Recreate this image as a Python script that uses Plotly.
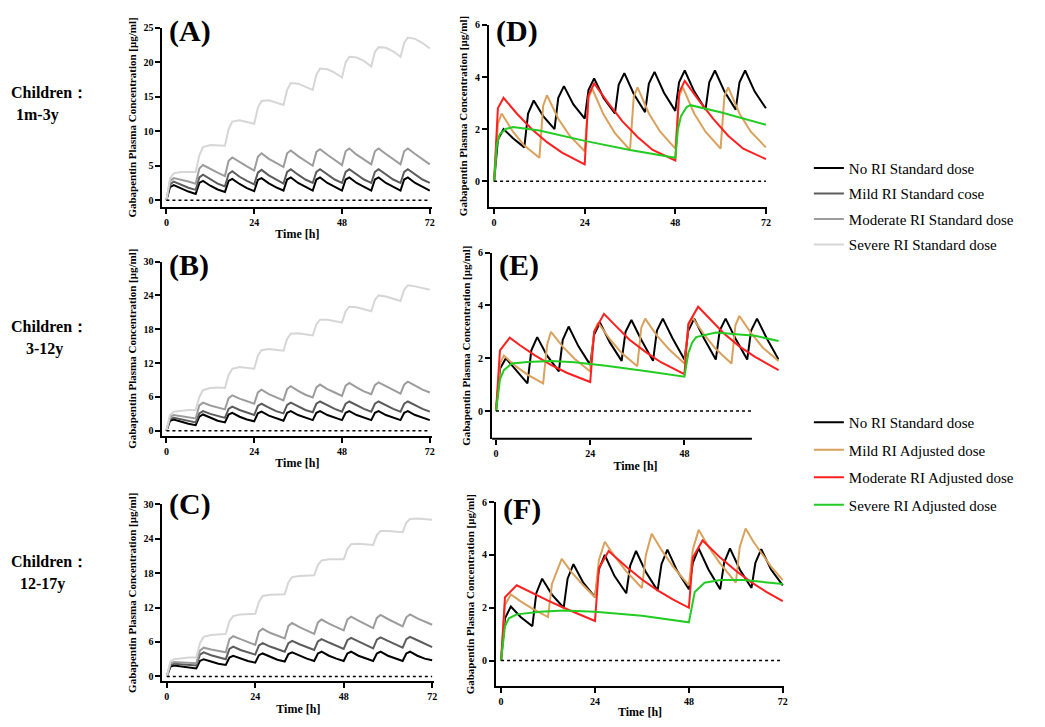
import plotly.graph_objects as go

# ---- data (time in h, concentration in ug/ml) ----
# panels A-C: standard dose every 8 h, same sampling grid for all four groups
T8 = [0, 1, 2, 4, 6, 8, 9, 10, 12, 14, 16, 17, 18, 20, 22, 24, 25, 26, 28, 30,
      32, 33, 34, 36, 38, 40, 41, 42, 44, 46, 48, 49, 50, 52, 54, 56, 57, 58, 60, 62,
      64, 65, 66, 68, 70, 72]

A_none = [0, 1.9, 2.2, 1.7, 1.25, 0.9, 2.5, 2.8, 2.1, 1.55, 1.2, 2.8, 3.1, 2.35, 1.75,
          1.3, 2.95, 3.2, 2.45, 1.85, 1.4, 3.0, 3.3, 2.5, 1.9, 1.4, 3.0, 3.3, 2.5, 1.9,
          1.4, 3.0, 3.3, 2.5, 1.9, 1.4, 3.0, 3.3, 2.5, 1.9, 1.4, 3.0, 3.3, 2.5, 1.9, 1.4]
A_mild = [0, 2.3, 2.7, 2.2, 1.8, 1.5, 3.3, 3.7, 3.0, 2.4, 2.0, 3.8, 4.2, 3.4, 2.8,
          2.3, 4.0, 4.4, 3.6, 3.0, 2.4, 4.1, 4.5, 3.7, 3.0, 2.5, 4.1, 4.5, 3.7, 3.0,
          2.5, 4.1, 4.5, 3.7, 3.0, 2.5, 4.1, 4.5, 3.7, 3.0, 2.5, 4.1, 4.5, 3.7, 3.0, 2.5]
A_mod = [0, 2.8, 3.2, 3.0, 2.7, 2.4, 4.6, 5.1, 4.5, 4.0, 3.5, 5.7, 6.2, 5.5, 4.9,
         4.3, 6.3, 6.8, 6.0, 5.4, 4.8, 6.8, 7.2, 6.4, 5.7, 5.0, 7.0, 7.4, 6.6, 5.8,
         5.1, 7.1, 7.5, 6.6, 5.9, 5.2, 7.1, 7.5, 6.7, 5.9, 5.2, 7.1, 7.5, 6.7, 5.9, 5.2]
A_sev = [0, 3.2, 3.9, 4.1, 4.1, 4.1, 6.5, 7.7, 8.0, 8.0, 7.9, 10.3, 11.4, 11.6, 11.4,
         11.1, 13.4, 14.4, 14.5, 14.2, 13.8, 16.0, 17.0, 16.9, 16.5, 16.0, 18.2, 19.1, 19.0, 18.5,
         17.8, 20.0, 20.8, 20.7, 20.2, 19.4, 21.5, 22.2, 22.1, 21.6, 20.8, 22.8, 23.6, 23.4, 22.8, 22.0]

B_none = [0, 1.8, 2.0, 1.6, 1.25, 1.0, 2.5, 2.9, 2.3, 1.8, 1.5, 2.9, 3.2, 2.5, 2.0,
          1.7, 3.1, 3.4, 2.7, 2.2, 1.8, 3.2, 3.5, 2.8, 2.3, 1.9, 3.2, 3.5, 2.8, 2.3,
          1.9, 3.2, 3.5, 2.8, 2.3, 1.9, 3.2, 3.5, 2.8, 2.3, 1.9, 3.2, 3.5, 2.8, 2.3, 1.9]
B_mild = [0, 2.1, 2.3, 2.0, 1.7, 1.5, 3.1, 3.5, 3.0, 2.6, 2.3, 3.9, 4.3, 3.7, 3.2,
          2.8, 4.4, 4.8, 4.1, 3.5, 3.1, 4.6, 5.0, 4.3, 3.7, 3.3, 4.8, 5.2, 4.5, 3.9,
          3.4, 4.8, 5.2, 4.5, 3.9, 3.4, 4.8, 5.2, 4.5, 3.9, 3.4, 4.8, 5.2, 4.5, 3.9, 3.4]
B_mod = [0, 2.5, 2.8, 2.6, 2.4, 2.2, 4.5, 5.0, 4.5, 4.1, 3.8, 5.8, 6.3, 5.7, 5.2,
         4.8, 6.8, 7.3, 6.5, 5.9, 5.4, 7.4, 7.9, 7.1, 6.4, 5.9, 7.7, 8.2, 7.4, 6.8,
         6.2, 8.0, 8.5, 7.7, 7.0, 6.5, 8.1, 8.6, 7.9, 7.2, 6.6, 8.2, 8.7, 8.0, 7.3, 6.8]
B_sev = [0, 2.8, 3.4, 3.6, 3.7, 3.7, 6.0, 7.2, 7.6, 7.7, 7.6, 9.9, 11.0, 11.3, 11.2,
         11.0, 13.3, 14.3, 14.5, 14.4, 14.2, 16.3, 17.2, 17.3, 17.1, 16.9, 18.9, 19.7, 19.7, 19.5,
         19.2, 21.2, 22.0, 21.9, 21.6, 21.2, 23.2, 24.0, 23.8, 23.4, 23.0, 25.0, 25.8, 25.6, 25.3, 25.0]

C_none = [0, 1.7, 1.9, 1.7, 1.5, 1.4, 2.7, 3.0, 2.6, 2.2, 2.0, 3.3, 3.6, 3.1, 2.7,
          2.4, 3.7, 4.0, 3.4, 2.9, 2.6, 3.9, 4.2, 3.6, 3.1, 2.7, 4.0, 4.3, 3.6, 3.1,
          2.7, 4.0, 4.3, 3.6, 3.1, 2.7, 4.0, 4.3, 3.6, 3.1, 2.7, 4.0, 4.3, 3.6, 3.1, 2.8]
C_mild = [0, 2.0, 2.2, 2.1, 2.0, 1.9, 3.8, 4.2, 3.7, 3.3, 3.0, 4.8, 5.2, 4.6, 4.2,
          3.8, 5.4, 5.8, 5.2, 4.7, 4.3, 5.8, 6.2, 5.6, 5.1, 4.6, 6.1, 6.5, 5.9, 5.3,
          4.8, 6.3, 6.7, 6.1, 5.5, 4.9, 6.4, 6.8, 6.2, 5.6, 5.0, 6.5, 6.9, 6.3, 5.7, 5.1]
C_mod = [0, 2.3, 2.5, 2.45, 2.4, 2.3, 4.5, 5.0, 4.7, 4.4, 4.2, 6.5, 7.0, 6.5, 6.0,
         5.5, 7.8, 8.3, 7.6, 7.1, 6.6, 8.8, 9.3, 8.6, 8.0, 7.4, 9.4, 9.9, 9.2, 8.6,
         8.0, 9.9, 10.4, 9.7, 9.1, 8.4, 10.2, 10.7, 10.0, 9.4, 8.7, 10.3, 10.8, 10.1, 9.5, 9.0]
C_sev = [0, 2.6, 3.0, 3.2, 3.3, 3.3, 5.8, 6.9, 7.2, 7.3, 7.4, 9.6, 10.5, 10.8, 10.9,
         10.9, 13.0, 14.0, 14.2, 14.3, 14.3, 16.4, 17.3, 17.5, 17.6, 17.6, 19.4, 20.2, 20.4, 20.4,
         20.4, 22.2, 23.0, 23.1, 23.0, 22.9, 24.6, 25.3, 25.3, 25.2, 25.1, 26.8, 27.4, 27.5, 27.4, 27.3]

# panels D-F: no RI every 8 h, adjusted doses at longer intervals
T_Q8 = [0, 1, 2.5, 5, 8, 9, 10.5, 13, 16, 17, 18.5, 21, 24, 25, 26.5, 29, 32, 33, 34.5, 37,
        40, 41, 42.5, 45, 48, 49, 50.5, 53, 56, 57, 58.5, 61, 64, 65, 66.5, 69, 72]
T_Q12 = [0, 1, 2, 5, 8, 12, 13, 14, 17, 20, 24, 25, 26, 29, 32, 36, 37, 38, 41, 44,
         48, 49, 50, 53, 56, 60, 61, 62, 65, 68, 72]
T_Q24 = [0, 1, 2.5, 6, 10, 14, 18, 24, 25, 26.5, 30, 34, 38, 42, 48, 49, 50.5, 54, 58, 62, 66, 72]

D_none = [0, 1.6, 2.0, 1.65, 1.3, 2.6, 3.1, 2.5, 2.0, 3.2, 3.65, 2.95, 2.4, 3.5, 3.95, 3.2,
          2.6, 3.7, 4.15, 3.35, 2.65, 3.75, 4.2, 3.4, 2.7, 3.8, 4.25, 3.45, 2.75, 3.8, 4.25, 3.45,
          2.75, 3.8, 4.25, 3.45, 2.8]
D_mild = [0, 2.2, 2.6, 1.9, 1.37, 0.9, 2.9, 3.3, 2.4, 1.75, 1.15, 3.2, 3.55, 2.56, 1.85,
          1.2, 3.25, 3.6, 2.6, 1.9, 1.25, 3.25, 3.6, 2.6, 1.9, 1.25, 3.25, 3.6, 2.6, 1.9, 1.3]
D_mod = [0, 2.8, 3.2, 2.6, 2.0, 1.5, 1.1, 0.65, 3.3, 3.75, 3.05, 2.3, 1.7, 1.2,
         0.8, 3.4, 3.85, 3.15, 2.4, 1.75, 1.25, 0.85]
TD_sev = [0, 0.7, 1.5, 3, 5, 12, 24, 36, 48, 48.7, 49.5, 51, 52, 60, 72]
D_sev = [0, 1.4, 1.8, 2.0, 2.08, 1.95, 1.55, 1.2, 0.9, 2.0, 2.5, 2.85, 2.92, 2.65, 2.17]

E_none = [0, 1.6, 2.0, 1.55, 1.05, 2.3, 2.8, 2.1, 1.5, 2.7, 3.2, 2.45, 1.75, 2.9, 3.35, 2.6,
          1.9, 3.0, 3.45, 2.7, 1.9, 3.05, 3.5, 2.75, 1.95, 3.05, 3.5, 2.75, 1.95, 3.05, 3.5, 2.75,
          1.95, 3.05, 3.5, 2.75, 1.95]
E_mild = [0, 1.8, 2.1, 1.7, 1.38, 1.05, 2.5, 3.0, 2.44, 1.98, 1.5, 3.0, 3.35, 2.72, 2.2,
          1.7, 3.15, 3.5, 2.86, 2.35, 1.8, 3.2, 3.55, 2.9, 2.35, 1.8, 3.25, 3.6, 2.95, 2.4, 1.9]
TE_mod = [0, 1, 3.5, 6, 10, 14, 18, 24, 25, 27.5, 30, 34, 38, 42, 48, 49, 51.5, 54, 58, 62, 66, 72]
E_mod = [0, 2.3, 2.78, 2.5, 2.1, 1.75, 1.45, 1.1, 3.0, 3.68, 3.3, 2.7, 2.25, 1.85,
         1.4, 3.3, 3.95, 3.55, 2.95, 2.45, 2.05, 1.55]
TE_sev = [0, 1, 2, 4, 8, 14, 20, 28, 38, 48, 49, 50, 51, 56, 62, 66, 72]
E_sev = [0, 1.2, 1.55, 1.8, 1.86, 1.9, 1.85, 1.72, 1.52, 1.3, 2.2, 2.6, 2.8, 2.97, 2.9, 2.85, 2.65]

F_none = [0, 1.6, 2.05, 1.65, 1.3, 2.55, 3.1, 2.5, 2.0, 3.1, 3.65, 2.95, 2.4, 3.45, 4.0, 3.2,
          2.55, 3.6, 4.15, 3.35, 2.65, 3.65, 4.2, 3.4, 2.7, 3.7, 4.25, 3.45, 2.7, 3.7, 4.25, 3.45,
          2.75, 3.7, 4.22, 3.45, 2.85]
TF_mild = [0, 1, 2.5, 5, 8, 12, 13, 15.5, 18, 21, 24, 25, 26.5, 29, 32, 36, 37, 38.5, 41, 44,
           48, 49, 50.5, 53, 56, 60, 61, 62.5, 64.5, 66.5, 69, 72]
F_mild = [0, 2.1, 2.5, 2.24, 1.97, 1.65, 2.9, 3.85, 3.35, 2.85, 2.4, 3.8, 4.5, 3.95, 3.38,
          2.75, 4.0, 4.8, 4.19, 3.55, 2.85, 4.2, 4.95, 4.31, 3.67, 2.95, 4.3, 5.0, 4.5, 4.06, 3.56, 3.05]
TF_mod = [0, 1, 4, 8, 12, 16, 20, 24, 25, 27.5, 32, 36, 40, 44, 48, 49, 51.5, 56, 60, 64, 68, 72]
F_mod = [0, 2.4, 2.85, 2.55, 2.27, 2.0, 1.75, 1.5, 3.5, 4.15, 3.55, 3.07, 2.66, 2.31,
         2.0, 3.9, 4.55, 3.9, 3.4, 2.96, 2.58, 2.25]
TF_sev = [0, 1, 2, 4, 10, 16, 24, 36, 48, 49, 49.5, 52, 56, 62, 66, 72]
F_sev = [0, 1.3, 1.6, 1.75, 1.85, 1.9, 1.85, 1.7, 1.45, 2.3, 2.6, 2.95, 3.05, 3.05, 3.0, 2.9]

NAMES_STD = ['No RI Standard dose', 'Mild RI Standard cose',
             'Moderate RI Standard dose', 'Severe RI Standard dose']
NAMES_ADJ = ['No RI Standard dose', 'Mild RI Adjusted dose',
             'Moderate RI Adjusted dose', 'Severe RI Adjusted dose']
ROW_LABELS = ['1m-3y', '3-12y', '12-17y']

GRAYS = ['#000000', '#5c5c5c', '#9c9c9c', '#d6d6d6']
RI_COLORS = ['#000000', '#d9a15c', '#ff1f1f', '#22cc22']

# page body keeps an 8 px margin, so the figure is shrunk to fit the window
OFF = 8
W, H = 1045 - 2 * OFF, 727 - 2 * OFF
SERIF = 'Liberation Serif'


def px_x(p):
    return (p - OFF) / W


def px_y(p):
    return 1 - (p - OFF) / H


# panel boxes in window pixels: (x left, x right), (y bottom, y top), ranges, ticks,
# and the vertical centre of the panel letter
panels = [
    dict(tag='A', ax=1, xpx=(163, 434), ypx=(203, 22), xr=[-1.1, 72.7], yr=[-1, 25],
         yt=[0, 5, 10, 15, 20, 25], xt=[0, 24, 48, 72], xtitle=True, colors=GRAYS, ltr=25,
         curves=[(T8, A_none), (T8, A_mild), (T8, A_mod), (T8, A_sev)], names=NAMES_STD, leg='legend'),
    dict(tag='B', ax=2, xpx=(163, 434), ypx=(434, 258), xr=[-1.1, 72.7], yr=[-0.88, 30],
         yt=[0, 6, 12, 18, 24, 30], xt=[0, 24, 48, 72], xtitle=True, colors=GRAYS, ltr=262,
         curves=[(T8, B_none), (T8, B_mild), (T8, B_mod), (T8, B_sev)], names=NAMES_STD, leg=None),
    dict(tag='C', ax=3, xpx=(163, 436), ypx=(682, 503), xr=[-1.2, 72.6], yr=[-0.86, 30],
         yt=[0, 6, 12, 18, 24, 30], xt=[0, 24, 48, 72], xtitle=True, colors=GRAYS, ltr=503,
         curves=[(T8, C_none), (T8, C_mild), (T8, C_mod), (T8, C_sev)], names=NAMES_STD, leg=None),
    dict(tag='D', ax=4, xpx=(491, 770), ypx=(203, 19), xr=[-1.32, 72.3], yr=[-0.99, 6],
         yt=[0, 2, 4, 6], xt=[0, 24, 48, 72], xtitle=False, colors=RI_COLORS, ltr=25,
         curves=[(T_Q8, D_none), (T_Q12, D_mild), (T_Q24, D_mod), (TD_sev, D_sev)],
         names=NAMES_ADJ, leg='legend2'),
    dict(tag='E', ax=5, xpx=(494, 782), ypx=(437, 249), xr=[-1.0, 72.1], yr=[-1.05, 6],
         yt=[0, 2, 4, 6], xt=[0, 24, 48], xtitle=True, colors=RI_COLORS, xend=65.2, ltr=261,
         curves=[(T_Q8, E_none), (T_Q12, E_mild), (TE_mod, E_mod), (TE_sev, E_sev)],
         names=NAMES_ADJ, leg=None),
    dict(tag='F', ax=6, xpx=(498, 787), ypx=(687, 501), xr=[-1.27, 72.3], yr=[-0.975, 6],
         yt=[0, 2, 4, 6], xt=[0, 24, 48, 72], xtitle=True, colors=RI_COLORS, ltr=508,
         curves=[(T_Q8, F_none), (TF_mild, F_mild), (TF_mod, F_mod), (TF_sev, F_sev)],
         names=NAMES_ADJ, leg=None),
]

fig = go.Figure()
tick_font = dict(family=SERIF, size=10, color='black', weight='bold')
shapes = []
annotations = []

for p in panels:
    n = p['ax']
    sfx = '' if n == 1 else str(n)
    xa, ya = 'x' + sfx, 'y' + sfx
    for i, (t, c) in enumerate(p['curves']):
        show = p['leg'] is not None
        fig.add_trace(go.Scatter(
            x=t, y=c, mode='lines', name=p['names'][i],
            line=dict(color=p['colors'][i], width=2),
            xaxis=xa, yaxis=ya, showlegend=show,
            legend=p['leg'] if show else None,
            legendgroup=p['tag'] + str(i), hoverinfo='skip'))

    x_end = p.get('xend')
    xaxis = dict(domain=[px_x(p['xpx'][0]), px_x(p['xpx'][1])], range=p['xr'],
                 anchor=ya, tickvals=p['xt'], ticks='outside', ticklen=5, tickwidth=1.5,
                 tickcolor='black', showline=x_end is None, linewidth=2, linecolor='black',
                 showgrid=False, zeroline=False, tickfont=tick_font)
    if p['xtitle']:
        xaxis['title'] = dict(text='Time [h]', standoff=3,
                              font=dict(family=SERIF, size=12, color='black', weight='bold'))
    yaxis = dict(domain=[px_y(p['ypx'][0]), px_y(p['ypx'][1])], range=p['yr'],
                 anchor=xa, tickvals=p['yt'], ticks='outside', ticklen=5, tickwidth=1.5,
                 tickcolor='black', showline=True, linewidth=2, linecolor='black',
                 showgrid=False, zeroline=False, tickfont=tick_font,
                 title=dict(text='Gabapentin Plasma Concentration [μg/ml]', standoff=5,
                            font=dict(family=SERIF, size=11, color='black', weight='bold')))
    fig.layout['xaxis' + sfx] = xaxis
    fig.layout['yaxis' + sfx] = yaxis

    # dotted zero reference line
    dot_end = x_end + 0.3 if x_end else 72
    shapes.append(dict(type='line', xref=xa, yref=ya, x0=0, x1=dot_end, y0=0, y1=0,
                       line=dict(color='black', width=1.5, dash='dot')))
    if x_end:
        shapes.append(dict(type='line', xref=xa, yref=ya + ' domain', x0=p['xr'][0], x1=x_end,
                           y0=0, y1=0, line=dict(color='black', width=2)))

    annotations.append(dict(text='(' + p['tag'] + ')', xref='paper', yref='paper',
                            x=px_x(p['xpx'][0] + 5), y=px_y(p['ltr']),
                            xanchor='left', yanchor='middle', showarrow=False,
                            font=dict(family=SERIF, size=30, color='black', weight='bold')))

row_y = [(87, 110), (324, 346), (561, 584)]
row_x = [14, 24, 18]
for (y1, y2), lab, xo in zip(row_y, ROW_LABELS, row_x):
    annotations.append(dict(text='Children：', xref='paper', yref='paper', x=px_x(9), y=px_y(y1),
                            xanchor='left', yanchor='middle', showarrow=False,
                            font=dict(family=SERIF, size=16, color='black', weight='bold')))
    annotations.append(dict(text=lab, xref='paper', yref='paper', x=px_x(xo), y=px_y(y2),
                            xanchor='left', yanchor='middle', showarrow=False,
                            font=dict(family=SERIF, size=16, color='black', weight='bold')))

leg_font = dict(family=SERIF, size=15, color='black')
fig.update_layout(
    width=W, height=H, margin=dict(l=0, r=0, t=0, b=0),
    paper_bgcolor='white', plot_bgcolor='white',
    shapes=shapes, annotations=annotations,
    legend=dict(x=px_x(812), y=px_y(147), xanchor='left', yanchor='top', font=leg_font,
                tracegroupgap=3, traceorder='grouped', bgcolor='rgba(0,0,0,0)'),
    legend2=dict(x=px_x(812), y=px_y(404), xanchor='left', yanchor='top', font=leg_font,
                 tracegroupgap=5, traceorder='grouped', bgcolor='rgba(0,0,0,0)'),
)

fig.write_html("out.html")
